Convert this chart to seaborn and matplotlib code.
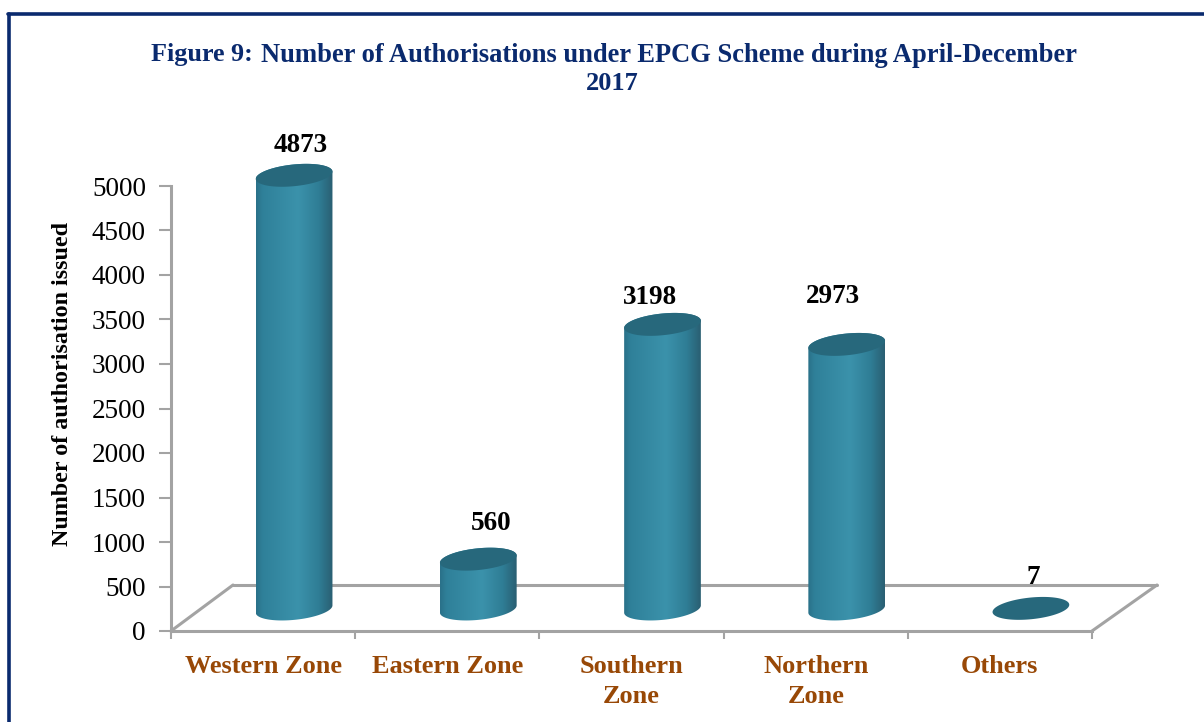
"""Figure 9: EPCG authorisations by zone, drawn as pseudo 3D cylinders."""

import numpy as np
import pandas as pd
import matplotlib
matplotlib.use('Agg')
import matplotlib.pyplot as plt
import seaborn as sns
from matplotlib.colors import LinearSegmentedColormap
from matplotlib.lines import Line2D
from matplotlib.patches import PathPatch, Polygon
from matplotlib.path import Path

zones = ['Western Zone', 'Eastern Zone', 'Southern\nZone', 'Northern\nZone', 'Others']
authorisations = [4873, 560, 3198, 2973, 7]
y_ticks = [0, 500, 1000, 1500, 2000, 2500, 3000, 3500, 4000, 4500, 5000]

W, H = 1204, 722
NAVY = '#0a2a6e'
BROWN = '#984806'
GREY = '#a3a3a3'
TOP_COLOR = '#27687c'

# the fake 3D floor, in pixels
DEPTH_X, DEPTH_Y = 62, 46
BAR_PX = 77
ELLIPSE_H = 11
TILT = np.deg2rad(5)
# labels do not sit at a constant height or x in the original
LABEL_DX = [7, 13, -13, -14, 2]
LABEL_DY = [30, 36, 27, 48, 31]

sns.set_theme(style='white')
plt.rcParams['font.family'] = ['Liberation Serif', 'DejaVu Serif']

fig = plt.figure(figsize=(W / 100, H / 100), dpi=100)
ax = fig.add_axes([171 / W, (H - 631) / H, (1092 - 171) / W, (631 - 186) / H])

df = pd.DataFrame({'zone': zones, 'count': authorisations})
px_x = (1092 - 171) / len(zones)
px_y = (631 - 186) / 5000
base = (DEPTH_Y / 2 - 1) / px_y

sns.barplot(data=df, x='zone', y='count', color='#2f7f98', width=BAR_PX / px_x,
            bottom=base, linewidth=0, ax=ax, zorder=3)
ax.set_xlim(-0.5, len(zones) - 0.5)
ax.set_ylim(0, 5000)


def ellipse(cx, cy, t):
    # tilted ellipse outline, worked out in pixels and returned in data units
    ex = BAR_PX / 2 * np.cos(t)
    ey = ELLIPSE_H * np.sin(t)
    return (cx + (ex * np.cos(TILT) + ey * np.sin(TILT)) / px_x,
            cy + (ex * np.sin(TILT) + ey * np.cos(TILT)) / px_y)


cmap = LinearSegmentedColormap.from_list(
    'cyl', [(0, '#2a7189'), (0.08, '#2f8099'), (0.55, '#3b92ab'), (0.82, '#2f7d95'), (1, '#2a5f72')])
gradient = np.linspace(0, 1, 128).reshape(1, -1)

for i, (bar, val) in enumerate(zip(ax.patches, authorisations)):
    bar.set_x(bar.get_x() + DEPTH_X / 2 / px_x)
    cx = bar.get_x() + bar.get_width() / 2
    y0, y1 = bar.get_y(), bar.get_y() + bar.get_height()
    bar.set_visible(False)

    # side of the cylinder: top arc left to right, then base arc back
    tx, ty = ellipse(cx, y1, np.linspace(np.pi, 0, 60))
    bx, by = ellipse(cx, y0, np.linspace(0, -np.pi, 60))
    outline = np.column_stack([np.r_[tx, bx], np.r_[ty, by]])
    if val > 50:
        clip = PathPatch(Path(np.vstack([outline, outline[:1]]), closed=True),
                         transform=ax.transData, fc='none', ec='none')
        ax.add_patch(clip)
        img = ax.imshow(gradient, cmap=cmap, aspect='auto', zorder=3,
                        extent=(bar.get_x(), bar.get_x() + bar.get_width(), y0 - 200, y1 + 200))
        img.set_clip_box(fig.bbox)  # tall bar pokes out above the axes
        img.set_clip_path(clip)

    ex, ey = ellipse(cx, y1, np.linspace(0, 2 * np.pi, 120))
    ax.add_patch(Polygon(np.column_stack([ex, ey]), fc=TOP_COLOR, ec='none', zorder=4, clip_on=False))

    ax.text(cx + LABEL_DX[i] / px_x, y1 + LABEL_DY[i] / px_y, str(val), ha='center', va='center',
            fontsize=19.5, fontweight='bold', color='black', zorder=5, clip_on=False)

ax.set_xlim(-0.5, len(zones) - 0.5)
ax.set_ylim(0, 5000)

# floor of the 3D box
dx, dy = DEPTH_X / px_x, DEPTH_Y / px_y
right = len(zones) - 0.5
floor_kw = dict(color=GREY, lw=2.2, zorder=2, clip_on=False, solid_capstyle='round')
ax.plot([-0.5, -0.5 + dx], [0, dy], **floor_kw)
ax.plot([-0.5 + dx, right + dx + 3 / px_x], [dy, dy], **floor_kw)
ax.plot([right, right + dx + 3 / px_x], [0, dy], **floor_kw)

sns.despine(ax=ax, top=True, right=True)
for side in ['left', 'bottom']:
    ax.spines[side].set_color(GREY)
    ax.spines[side].set_linewidth(2.2)

ax.set_yticks(y_ticks)
ax.set_xticks(np.arange(len(zones)))
ax.set_xticks(np.arange(len(zones) + 1) - 0.5, minor=True)
ax.tick_params(axis='x', which='major', length=0, pad=17, labelsize=19, labelcolor=BROWN)
ax.tick_params(axis='x', which='minor', bottom=True, length=6, width=1.5, color=GREY)
ax.tick_params(axis='y', left=True, length=9, width=1.5, color=GREY, labelsize=19.5, labelcolor='black', pad=9)
for lab in ax.get_xticklabels():
    lab.set_fontweight('bold')
    lab.set_linespacing(1.4)
ax.set_xlabel('')
ax.set_ylabel('')
fig.text(63 / W, 1 - 384 / H, 'Number of authorisation issued', rotation=90, ha='center', va='center',
         fontsize=17.3, fontweight='bold', color='black')

# title has a bigger lead-in, so it is two pieces set side by side
renderer = fig.canvas.get_renderer()
lead = fig.text(151 / W, 1 - 52 / H, 'Figure 9:', ha='left', va='center_baseline',
                fontsize=18.8, fontweight='bold', color=NAVY)
lead_end = lead.get_window_extent(renderer).x1
fig.text((lead_end + 8) / W, 1 - 52 / H, 'Number of Authorisations under EPCG Scheme during April-December',
         ha='left', va='center_baseline', fontsize=19.1, fontweight='bold', color=NAVY)
fig.text(612 / W, 1 - 81 / H, '2017', ha='center', va='center_baseline',
         fontsize=19, fontweight='bold', color=NAVY)

# page frame, open on the right and bottom
fig.add_artist(Line2D([9 / W, 9 / W], [0, 1 - 14 / H], color=NAVY, lw=2.6))
fig.add_artist(Line2D([8 / W, 1], [1 - 14 / H, 1 - 14 / H], color=NAVY, lw=2.6))

fig.savefig('out.png', dpi=100)
